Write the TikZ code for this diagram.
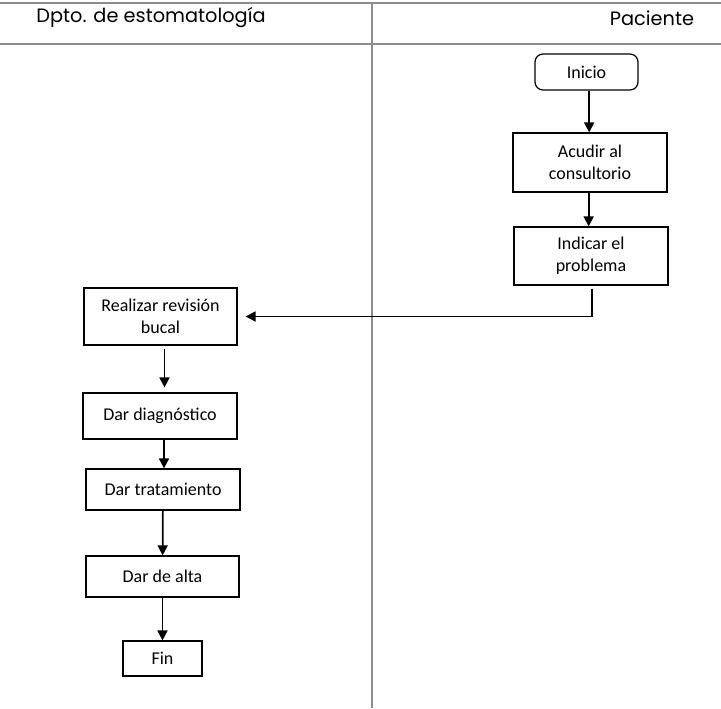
\documentclass[tikz,border=0pt]{standalone}
\usepackage{fontspec}
\setmainfont{Carlito}
\newfontfamily\carrilfont{Poppins}
\usetikzlibrary{arrows.meta}

\tikzset{
  caja/.style={draw, line width=0.9pt, align=center, inner sep=0pt,
    font=\fontsize{13.5}{16.5}\selectfont},
  flecha/.style={draw, line width=1.3pt, -{Triangle[length=7.5pt,width=7.5pt]}},
  carril/.style={draw=black!45, line width=1.1pt},
  titulo/.style={inner sep=0.75pt, font=\carrilfont\fontsize{14.5}{17}\selectfont}
}

\begin{document}
\begin{tikzpicture}[x=0.75pt,y=0.75pt,yscale=-1,xscale=1]
    \useasboundingbox (0,0) rectangle (721,708);
    %Straight Lines (lanes)
    \draw[carril] (0,3) -- (721,3);
    \draw[carril] (0,44) -- (721,44);
    \draw[carril] (372,3) -- (372,708);
    % Text Node
    \node[titulo] (dpto) at (151,18) {Dpto. de estomatología};
    % Text Node
    \node[titulo] (paciente) at (652,18) {Paciente};
    % Paciente
    \node[caja, rounded corners=6pt, minimum width=77.25pt, minimum height=27pt] (inicio) at (586.5,72) {Inicio};
    \node[caja, minimum width=115.5pt, minimum height=44.25pt] (acudir) at (590,162.5) {Acudir al\\consultorio};
    \node[caja, minimum width=115.5pt, minimum height=43.5pt] (indicar) at (591,256) {Indicar el\\problema};
    % Dpto. de estomatologia
    \node[caja, minimum width=114.75pt, minimum height=42.75pt] (revision) at (160.5,316.5) {Realizar revisión\\bucal};
    \node[caja, minimum width=115.5pt, minimum height=34.5pt] (diagnostico) at (160,416) {Dar diagnóstico};
    \node[caja, minimum width=115.5pt, minimum height=30.75pt] (tratamiento) at (163,489.5) {Dar tratamiento};
    \node[caja, minimum width=114.75pt, minimum height=30.75pt] (alta) at (162.5,576.5) {Dar de alta};
    \node[caja, minimum width=59.25pt, minimum height=26.25pt] (fin) at (162.5,658.5) {Fin};
    %Arrows
    \draw[flecha] ([xshift=2pt]inicio.south) -- ([xshift=2pt]inicio.south |- acudir.north);
    \draw[flecha] ([xshift=-1pt]acudir.south) -- ([xshift=-1pt]acudir.south |- indicar.north);
    \draw[flecha, shorten <=2.25pt, shorten >=6pt] ([xshift=0.75pt]indicar.south) |- (revision.east);
    \draw[flecha, shorten <=2.25pt, shorten >=3.75pt] ([xshift=3pt]revision.south) -- ([xshift=3pt]revision.south |- diagnostico.north);
    \draw[flecha] ([xshift=3pt]diagnostico.south) -- ([xshift=3pt]diagnostico.south |- tratamiento.north);
    \draw[flecha] (tratamiento) -- (alta);
    \draw[flecha] (alta) -- (fin);
\end{tikzpicture}
\end{document}
